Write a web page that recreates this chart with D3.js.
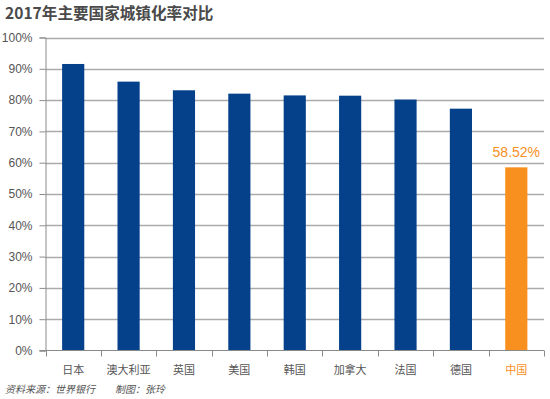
<!DOCTYPE html>
<html>
<head>
<meta charset="utf-8">
<script src="https://cdn.jsdelivr.net/npm/d3@7"></script>
<style>
body { margin: 0; background: #fff; }
svg { display: block; font-family: "Noto Sans CJK SC", "Liberation Sans", sans-serif; }
</style>
</head>
<body>
<svg id="chart"></svg>
<script>
let countries = ['日本', '澳大利亚', '英国', '美国', '韩国', '加拿大', '法国', '德国', '中国']
let rates = [91.54, 85.90, 83.14, 82.06, 81.50, 81.41, 80.18, 77.26, 58.52]
let yTicks = [0, 10, 20, 30, 40, 50, 60, 70, 80, 90, 100]

let width = 550
let height = 399
let plotLeft = 45.5
let plotRight = 544
let plotTop = 37.5
let plotBottom = 350.5

let blue = '#04418a'
let orange = '#f7901e'

let svg = d3.select('#chart').attr('width', width).attr('height', height)

let xScale = d3.scaleBand().domain(countries).range([plotLeft, plotRight]).paddingInner(0.6).paddingOuter(0.3)
let xTickScale = d3.scaleBand().domain(countries).range([plotLeft, plotRight])
let yScale = d3.scaleLinear().domain([0, 100]).range([plotBottom, plotTop])

// gridlines
svg.append('g')
    .selectAll('line')
    .data(yTicks.filter(d => d > 0))
    .enter()
    .append('line')
    .attr('x1', plotLeft)
    .attr('x2', plotRight)
    .attr('y1', d => Math.round(yScale(d)) + 0.5)
    .attr('y2', d => Math.round(yScale(d)) + 0.5)
    .attr('stroke', '#ababab')
    .attr('stroke-width', 1.6)

// y axis
let yAxis = d3.axisLeft(yScale).tickValues(yTicks).tickSize(6).tickPadding(7).tickFormat(d => d + '%')
let yg = svg.append('g')
    .attr('transform', 'translate(' + plotLeft + ',0)')
    .call(yAxis)
yg.select('.domain').attr('stroke', '#8a8a8a')
yg.selectAll('.tick line').attr('stroke', '#8a8a8a')
yg.selectAll('.tick text')
    .attr('fill', '#555')
    .style('font-family', '"Liberation Sans", Arial, sans-serif')
    .style('font-size', '12px')

// bars
svg.selectAll('rect.bar')
    .data(rates)
    .enter()
    .append('rect')
    .attr('class', 'bar')
    .attr('x', (d, i) => xScale(countries[i]))
    .attr('y', d => yScale(d))
    .attr('width', xScale.bandwidth())
    .attr('height', d => yScale(0) - yScale(d))
    .attr('fill', (d, i) => countries[i] == '中国' ? orange : blue)

// x axis
let xg = svg.append('g').attr('transform', 'translate(0,' + plotBottom + ')')
xg.append('line')
    .attr('x1', plotLeft - 6)
    .attr('x2', plotRight)
    .attr('stroke', '#8a8a8a')
xg.selectAll('line.tk')
    .data(countries.concat(['end']))
    .enter()
    .append('line')
    .attr('class', 'tk')
    .attr('x1', (d, i) => Math.round(plotLeft + i * xTickScale.step()) + 0.5)
    .attr('x2', (d, i) => Math.round(plotLeft + i * xTickScale.step()) + 0.5)
    .attr('y1', 0)
    .attr('y2', 6)
    .attr('stroke', '#8a8a8a')
xg.selectAll('text')
    .data(countries)
    .enter()
    .append('text')
    .attr('x', d => xTickScale(d) + xTickScale.bandwidth() / 2)
    .attr('y', 23)
    .attr('text-anchor', 'middle')
    .attr('fill', d => d == '中国' ? orange : '#555')
    .style('font-size', '11px')
    .text(d => d)

// value label for China
svg.append('text')
    .attr('x', xScale('中国') + xScale.bandwidth() / 2)
    .attr('y', yScale(58.52) - 10)
    .attr('text-anchor', 'middle')
    .attr('fill', orange)
    .style('font-family', '"Liberation Sans", Arial, sans-serif')
    .style('font-size', '14px')
    .text('58.52%')

// title
svg.append('text')
    .attr('x', 5)
    .attr('y', 19)
    .attr('fill', '#4a4a4a')
    .style('font-size', '15.6px')
    .style('font-weight', 'bold')
    .text('2017年主要国家城镇化率对比')

// source
svg.append('text')
    .attr('x', 5)
    .attr('y', 393)
    .attr('fill', '#555')
    .style('font-size', '10px')
    .style('font-style', 'italic')
    .text('资料来源：世界银行　　制图：张玲')
</script>
</body>
</html>
